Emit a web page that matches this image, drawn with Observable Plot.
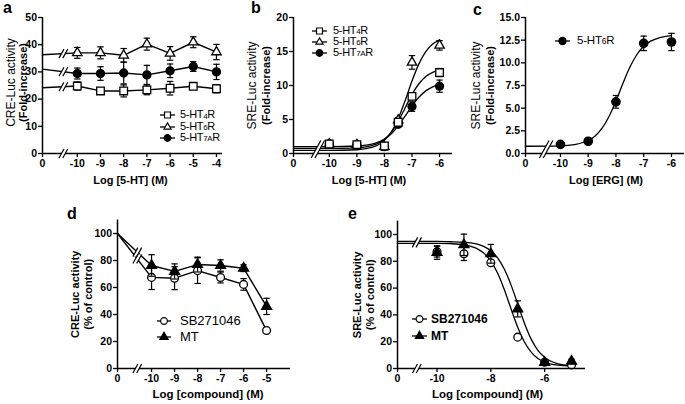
<!DOCTYPE html>
<html>
<head>
<meta charset="utf-8">
<script src="https://cdn.jsdelivr.net/npm/d3@7"></script>
<script src="https://cdn.jsdelivr.net/npm/@observablehq/plot@0.6"></script>
<style>
  html, body { margin: 0; padding: 0; background: white; }
  #fig { position: relative; width: 685px; height: 404px; background: white; overflow: hidden;
         font-family: "Liberation Sans", Arial, Helvetica, sans-serif; color: black; }
  #fig svg g[aria-label*="axis"] line, #fig svg g[aria-label*="axis"] path { stroke-width: 1.3px; }
  .plabel { position: absolute; font-size: 16px; font-weight: bold; line-height: 16px; }
  .legend-row { position: absolute; display: flex; align-items: center; white-space: nowrap; height: 14px; }
  .sb { font-size: 72%; position: relative; top: 0.5px; }
</style>
</head>
<body>
<div id="fig"></div>
<script>
// ================= DATA =================
// Doses are log10 molar concentrations; 0 = control (no compound), drawn on the broken axis origin.

// Panel a: CRE-Luc activity (fold increase) vs log [5-HT]
const aDoses   = [0, -10, -9, -8, -7, -6, -5, -4];
const aHT4R    = [24.2, 24.8, 23.0, 23.0, 23.4, 24.0, 24.7, 23.8];
const aHT4RErr = [null, 1.5, 1.0, 2.2, 1.8, 2.5, 1.0, 1.5];
const aHT6R    = [36.3, 37.0, 37.0, 36.1, 40.2, 36.8, 40.9, 37.3];
const aHT6RErr = [null, 2.0, 2.2, 2.5, 2.2, 2.5, 2.0, 2.8];
const aHT7AR    = [31.0, 29.4, 29.4, 29.6, 28.9, 30.4, 32.0, 30.0];
const aHT7ARErr = [null, 2.0, 2.5, 4.0, 3.5, 2.5, 1.8, 2.8];
const aTicks = [-10, -9, -8, -7, -6, -5, -4];
const aYTicks = [0, 10, 20, 30, 40, 50];

// Panel b: SRE-Luc activity vs log [5-HT]
const bDoses    = [-10, -9, -8, -7.5, -7, -6];
const bHT4R     = [1.4, 1.3, 1.1, 4.6, 8.4, 11.9];
const bHT4RErr  = [0.3, 0.2, 0.5, 0.4, 0.5, 0.6];
const bHT6R     = [1.4, 1.3, 1.0, 4.9, 13.4, 15.9];
const bHT6RErr  = [0.3, 0.2, 0.5, 0.4, 1.0, 0.7];
const bHT7AR    = [1.4, 1.3, 1.0, 4.3, 6.9, 9.9];
const bHT7ARErr = [0.3, 0.2, 0.5, 0.4, 0.7, 0.9];
// fitted curves
const bFitDoses = [0, -10, -9, -8.5, -8.25, -8, -7.75, -7.5, -7.25, -7, -6.75, -6.5, -6.25, -6];
const bFit4R    = [0.75, 0.75, 0.84, 1.12, 1.46, 2.08, 3.14, 4.72, 6.70, 8.68, 10.26, 11.32, 11.94, 12.29];
const bFit6R    = [0.45, 0.45, 0.55, 0.85, 1.22, 1.93, 3.16, 5.12, 7.76, 10.65, 13.18, 14.99, 16.10, 16.72];
const bFit7AR   = [1.01, 1.01, 1.10, 1.34, 1.63, 2.12, 2.91, 4.06, 5.50, 6.99, 8.27, 9.21, 9.81, 10.16];
const bTicks = [-10, -9, -8, -7, -6];
const bYTicks = [0, 5, 10, 15, 20];

// Panel c: SRE-Luc activity vs log [ERG]
const cDoses   = [-10, -9, -8, -7, -6];
const cHT6R    = [1.0, 1.35, 5.7, 12.15, 12.3];
const cHT6RErr = [0.15, 0.2, 0.7, 0.8, 0.95];
const cFitDoses = [0, -10, -9.5, -9, -8.75, -8.5, -8.25, -8, -7.75, -7.5, -7.25, -7, -6.75, -6.5, -6.25, -6];
const cFit6R    = [0.80, 0.85, 0.99, 1.43, 1.94, 2.79, 4.08, 5.80, 7.73, 9.51, 10.89, 11.82, 12.39, 12.71, 12.89, 12.99];
const cTicks = [-10, -9, -8, -7, -6];
const cYTicks = [0, 2.5, 5, 7.5, 10, 12.5, 15];

// Panel d: CRE-Luc activity (% of control) vs log [compound]
const dDoses   = [0, -10, -9, -8, -7, -6, -5];
const dSB      = [100, 67.5, 66.9, 72.5, 67.4, 62.3, 28.1];
const dSBErr   = [null, 9, 8.5, 9.5, 4, 4.3, 1];
const dMT      = [100, 76.3, 71.9, 77.0, 76.3, 74.3, 46.0];
const dMTErr   = [null, 8, 5.6, 5.5, 4.2, 2.5, 6];
const dTicks = [-10, -9, -8, -7, -6, -5];
const dYTicks = [0, 20, 40, 60, 80, 100];

// Panel e: SRE-Luc activity (% of control) vs log [compound]
const eDoses  = [-10, -9, -8, -7, -6, -5];
const eSB     = [87.2, 85.6, 78.9, 23.4, 4.7, 2.7];
const eSBErr  = [4, 5, 1.5, 1, 1, 1];
const eMT     = [86.5, 92.3, 85.6, 44.5, 4.5, 5.4];
const eMTErr  = [5, 8, 7, 6, 1, 1.5];
const eFitDoses = [0, -10, -9.5, -9, -8.5, -8.25, -8, -7.75, -7.5, -7.25, -7, -6.75, -6.5, -6.25, -6, -5.5, -5];
const eFitSB    = [93.4, 93.4, 93.15, 92.3, 89.3, 85.9, 80.1, 71.2, 58.9, 44.6, 30.8, 19.8, 12.2, 7.5, 4.8, 2.45, 1.77];
const eFitMT    = [94.8, 94.8, 94.6, 94.2, 92.8, 91.0, 87.9, 82.6, 74.3, 62.4, 48.1, 33.8, 21.9, 13.6, 8.4, 3.5, 2.1];
const eTicks = [-10, -8, -6];
const eYTicks = [0, 20, 40, 60, 80, 100];

// ================= HELPERS =================
const FONT = '"Liberation Sans", Arial, Helvetica, sans-serif';
const fig = document.getElementById("fig");

const cap = { draw(c) { c.moveTo(-3.2, 0); c.lineTo(3.2, 0); } };
function breakFill(top, bot, k = 0.55, c1 = -1.9, c2 = 1.9) {
  return { draw(c) {
    c.moveTo(c1 - k * bot, bot); c.lineTo(c1 - k * top, top);
    c.lineTo(c2 - k * top, top); c.lineTo(c2 - k * bot, bot); c.closePath();
  } };
}
function breakLines(top, bot, k = 0.55, c1 = -1.9, c2 = 1.9) {
  return { draw(c) {
    c.moveTo(c1 - k * bot, bot); c.lineTo(c1 - k * top, top);
    c.moveTo(c2 - k * bot, bot); c.lineTo(c2 - k * top, top);
  } };
}
function breakMarks(points, top, bot) {
  return [
    Plot.dot(points, {x: "x", y: "y", symbol: breakFill(top, bot), fill: "white", stroke: "none", r: 5}),
    Plot.dot(points, {x: "x", y: "y", symbol: breakLines(top, bot), fill: "none", stroke: "black", strokeWidth: 1.2, r: 5})
  ];
}
const rows = (doses, vals, errs, ctrl) =>
  doses.map((d, i) => ({x: d === 0 ? ctrl : d, y: vals[i], err: errs ? errs[i] : null, ctrl: d === 0}));

// y value of the straight segment ctrl -> first dose at the break position
const yAtBreak = (r, bx) => {
  const a = r[0], b = r[1];
  return a.y + (b.y - a.y) * (bx - a.x) / (b.x - a.x);
};

function errMarks(r) {
  const e = r.filter(d => d.err != null && !d.ctrl);
  return [
    Plot.ruleX(e, {x: "x", y1: d => d.y - d.err, y2: d => d.y + d.err, stroke: "black", strokeWidth: 1.2}),
    Plot.dot(e, {x: "x", y: d => d.y + d.err, symbol: cap, fill: "none", stroke: "black", strokeWidth: 1.2}),
    Plot.dot(e, {x: "x", y: d => d.y - d.err, symbol: cap, fill: "none", stroke: "black", strokeWidth: 1.2})
  ];
}
function pointMarks(r, symbol, rad, fill) {
  return Plot.dot(r.filter(d => !d.ctrl), {x: "x", y: "y", symbol, r: rad, fill, stroke: "black", strokeWidth: 1.3});
}

function makePanel(cfg) {
  const {left, top, width, height, m, ctrl, xmax, ymax, xTicks, yTicks, yFormat,
         marks, xLabel, xLabelDx, yLab1, yLab2, yDx1, yDx2, yDy, yW1, yW2, yF1, yF2, xF} = cfg;
  const svg = Plot.plot({
    width, height,
    marginTop: m[0], marginRight: m[1], marginBottom: m[2], marginLeft: m[3],
    x: {domain: [ctrl, xmax], ticks: [ctrl, ...xTicks], tickFormat: d => d === ctrl ? "0" : String(d),
        tickSize: 4, tickPadding: 2, label: null},
    y: {domain: [0, ymax], ticks: yTicks, tickFormat: yFormat || (d => String(d)),
        tickSize: 4, tickPadding: 1.5, label: null},
    style: `font-family: ${FONT}; font-size: 10.5px; font-weight: bold; background: transparent; overflow: visible; color: black;`,
    marks: [
      ...marks,
      Plot.ruleY([0], {stroke: "black", strokeWidth: 1.5}),
      Plot.ruleX([ctrl], {stroke: "black", strokeWidth: 1.5}),
      ...breakMarks([{x: cfg.breakX, y: 0}], cfg.axisBreakTop ?? -4.5, 4.5),
      Plot.text([xLabel], {text: d => d, frameAnchor: "bottom", dy: cfg.xDy ?? 27, dx: xLabelDx,
        lineAnchor: "middle", textAnchor: "middle", fontSize: xF ?? 11, fontWeight: "bold"}),
      Plot.text([yLab1], {text: d => d, frameAnchor: "left", rotate: -90, dx: yDx1, dy: yDy,
        lineAnchor: "middle", textAnchor: "middle", fontSize: yF1, fontWeight: yW1}),
      Plot.text([yLab2], {text: d => d, frameAnchor: "left", rotate: -90, dx: yDx2, dy: yDy,
        lineAnchor: "middle", textAnchor: "middle", fontSize: yF2, fontWeight: yW2})
    ]
  });
  svg.style.position = "absolute";
  svg.style.left = left + "px";
  svg.style.top = top + "px";
  svg.style.maxWidth = "none";
  fig.appendChild(svg);
}

function addLabel(txt, left, baseline) {
  const d = document.createElement("div");
  d.className = "plabel";
  d.textContent = txt;
  d.style.left = left + "px";
  d.style.top = (baseline - 13.5) + "px";
  fig.appendChild(d);
}

function addLegend({left, centers, glyphW, gap, fontSize, fontWeight, spacing, items}) {
  items.forEach((it, i) => {
    const row = document.createElement("div");
    row.className = "legend-row";
    row.style.left = left + "px";
    row.style.top = (centers[i] - 7) + "px";
    const s = d3.create("svg").attr("width", glyphW).attr("height", 14).style("overflow", "visible");
    s.append("line").attr("x1", 0).attr("x2", glyphW).attr("y1", 7).attr("y2", 7)
      .attr("stroke", "black").attr("stroke-width", 1.3);
    s.append("path").attr("transform", `translate(${glyphW / 2},7)`)
      .attr("d", d3.symbol(it.type, it.size)()).attr("fill", it.fill)
      .attr("stroke", "black").attr("stroke-width", 1.2);
    row.appendChild(s.node());
    const span = document.createElement("span");
    span.innerHTML = it.label;
    span.style.marginLeft = gap + "px";
    span.style.fontSize = fontSize + "px";
    span.style.fontWeight = fontWeight;
    span.style.letterSpacing = (spacing || 0) + "px";
    span.style.lineHeight = "14px";
    row.appendChild(span);
    fig.appendChild(row);
  });
}

const SQ = {symbol: "square", r: 4.3};
const TR = {symbol: "triangle", r: 3.5};
const CI = {symbol: "circle", r: 4.0};

// ================= PANEL A =================
{
  const ctrl = -11.5, bx = -10.6;
  const r4 = rows(aDoses, aHT4R, aHT4RErr, ctrl);
  const r6 = rows(aDoses, aHT6R, aHT6RErr, ctrl);
  const r7 = rows(aDoses, aHT7AR, aHT7ARErr, ctrl);
  makePanel({
    left: 0, top: 0, width: 232, height: 200, m: [17, 10, 47, 42], ctrl, xmax: -3.74, ymax: 50,
    xTicks: aTicks, yTicks: aYTicks, breakX: bx,
    xLabel: "Log [5-HT] (M)", xLabelDx: -2,
    yLab1: "CRE-Luc activity", yLab2: "(Fold-increase)", yDx1: -31, yDx2: -19, yDy: -3,
    yW1: "normal", yW2: "bold", yF1: 12, yF2: 11,
    marks: [
      Plot.line(r4, {x: "x", y: "y", stroke: "black", strokeWidth: 1.4}),
      Plot.line(r6, {x: "x", y: "y", stroke: "black", strokeWidth: 1.4}),
      Plot.line(r7, {x: "x", y: "y", stroke: "black", strokeWidth: 1.4}),
      ...breakMarks([r4, r6, r7].map(r => ({x: bx, y: yAtBreak(r, bx)})), -4.5, 4.5),
      ...errMarks(r4), pointMarks(r4, SQ.symbol, SQ.r, "white"),
      ...errMarks(r6), pointMarks(r6, TR.symbol, TR.r, "white"),
      ...errMarks(r7), pointMarks(r7, CI.symbol, CI.r, "black")
    ]
  });
}

// ================= PANEL B =================
{
  const ctrl = -11.3, bx = -10.5;
  const r4 = rows(bDoses, bHT4R, bHT4RErr, ctrl);
  const r6 = rows(bDoses, bHT6R, bHT6RErr, ctrl);
  const r7 = rows(bDoses, bHT7AR, bHT7ARErr, ctrl);
  const f4 = rows(bFitDoses, bFit4R, null, ctrl);
  const f6 = rows(bFitDoses, bFit6R, null, ctrl);
  const f7 = rows(bFitDoses, bFit7AR, null, ctrl);
  makePanel({
    left: 232, top: 0, width: 228, height: 200, m: [17, 8, 47, 61], ctrl, xmax: -5.53, ymax: 20,
    xTicks: bTicks, yTicks: bYTicks, breakX: bx, axisBreakTop: -13,
    xLabel: "Log [5-HT] (M)", xLabelDx: -4,
    yLab1: "SRE-Luc activity", yLab2: "(Fold-increase)", yDx1: -41, yDx2: -27, yDy: 0,
    yW1: "normal", yW2: "bold", yF1: 12, yF2: 11,
    marks: [
      Plot.line(f4, {x: "x", y: "y", curve: "monotone-x", stroke: "black", strokeWidth: 1.3}),
      Plot.line(f6, {x: "x", y: "y", curve: "monotone-x", stroke: "black", strokeWidth: 1.3}),
      Plot.line(f7, {x: "x", y: "y", curve: "monotone-x", stroke: "black", strokeWidth: 1.3}),
      ...errMarks(r7), pointMarks(r7, CI.symbol, CI.r, "black"),
      ...errMarks(r6), pointMarks(r6, TR.symbol, TR.r, "white"),
      ...errMarks(r4), pointMarks(r4, SQ.symbol, SQ.r, "white")
    ]
  });
}

// ================= PANEL C =================
{
  const ctrl = -11.26, bx = -10.6;
  const r6 = rows(cDoses, cHT6R, cHT6RErr, ctrl);
  const f6 = rows(cFitDoses, cFit6R, null, ctrl);
  makePanel({
    left: 460, top: 0, width: 225, height: 200, m: [17, 1, 47, 65], ctrl, xmax: -5.53, ymax: 15,
    xTicks: cTicks, yTicks: cYTicks, yFormat: d3.format(".1f"), breakX: bx, axisBreakTop: -13,
    xLabel: "Log [ERG] (M)", xLabelDx: 1,
    yLab1: "SRE-Luc activity", yLab2: "(Fold-increase)", yDx1: -49, yDx2: -35, yDy: 0,
    yW1: "normal", yW2: "bold", yF1: 12, yF2: 11,
    marks: [
      Plot.line(f6, {x: "x", y: "y", curve: "monotone-x", stroke: "black", strokeWidth: 1.3}),
      ...errMarks(r6), pointMarks(r6, CI.symbol, CI.r + 0.2, "black")
    ]
  });
}

// ================= PANEL D =================
{
  const ctrl = -11.48, bx = -10.62;
  const rS = rows(dDoses, dSB, dSBErr, ctrl);
  const rM = rows(dDoses, dMT, dMTErr, ctrl);
  makePanel({
    left: 0, top: 200, width: 300, height: 204, m: [19.5, 10, 36, 117], ctrl, xmax: -3.96, ymax: 110,
    xTicks: dTicks, yTicks: dYTicks, breakX: bx, xDy: 26, xF: 11.5,
    xLabel: "Log [compound] (M)", xLabelDx: 4,
    yLab1: "CRE-Luc activity", yLab2: "(% of control)", yDx1: -42, yDx2: -29, yDy: 0,
    yW1: "bold", yW2: "bold", yF1: 11, yF2: 11,
    marks: [
      Plot.line(rS, {x: "x", y: "y", stroke: "black", strokeWidth: 1.4}),
      Plot.line(rM, {x: "x", y: "y", stroke: "black", strokeWidth: 1.4}),
      ...breakMarks([rS, rM].map(r => ({x: bx, y: yAtBreak(r, bx)})), -4.5, 4.5),
      ...errMarks(rS), pointMarks(rS, CI.symbol, 3.9, "white"),
      ...errMarks(rM), pointMarks(rM, TR.symbol, 3.7, "black")
    ]
  });
}

// ================= PANEL E =================
{
  const ctrl = -11.47, bx = -10.75;
  const rS = rows(eDoses, eSB, eSBErr, ctrl);
  const rM = rows(eDoses, eMT, eMTErr, ctrl);
  const fS = rows(eFitDoses, eFitSB, null, ctrl);
  const fM = rows(eFitDoses, eFitMT, null, ctrl);
  makePanel({
    left: 300, top: 200, width: 300, height: 204, m: [20.6, 15, 36, 97], ctrl, xmax: -4.48, ymax: 110,
    xTicks: eTicks, yTicks: eYTicks, breakX: bx, xDy: 26, xF: 11.5,
    xLabel: "Log [compound] (M)", xLabelDx: -4,
    yLab1: "SRE-Luc activity", yLab2: "(% of control)", yDx1: -40, yDx2: -27, yDy: 0,
    yW1: "bold", yW2: "bold", yF1: 11, yF2: 11,
    marks: [
      Plot.line(fS, {x: "x", y: "y", curve: "monotone-x", stroke: "black", strokeWidth: 1.3}),
      Plot.line(fM, {x: "x", y: "y", curve: "monotone-x", stroke: "black", strokeWidth: 1.3}),
      ...breakMarks([{x: bx, y: (eFitSB[0] + eFitMT[0]) / 2}], -5, 5),
      ...errMarks(rS), pointMarks(rS, CI.symbol, 3.9, "white"),
      ...errMarks(rM), pointMarks(rM, TR.symbol, 3.7, "black")
    ]
  });
}

// ================= PANEL LETTERS & LEGENDS =================
addLabel("a", 3, 13);
addLabel("b", 251, 13.5);
addLabel("c", 473, 15);
addLabel("d", 67, 219);
addLabel("e", 348, 219);

const sub = (n) => `5-HT<span class="sb">${n}</span>R`;
const htItems = [
  {type: d3.symbolSquare, size: 36, fill: "white", label: sub("4")},
  {type: d3.symbolTriangle, size: 22, fill: "white", label: sub("6")},
  {type: d3.symbolCircle, size: 34, fill: "black", label: sub("7A")}
];
addLegend({left: 160, centers: [115, 126.7, 137.7], glyphW: 15, gap: 5, fontSize: 11, fontWeight: "normal", spacing: -0.3, items: htItems});
addLegend({left: 312, centers: [30.7, 41.7, 52.7], glyphW: 15, gap: 6, fontSize: 11, fontWeight: "normal", spacing: -0.3, items: htItems});
addLegend({left: 555, centers: [40.7], glyphW: 15, gap: 7, fontSize: 11.5, fontWeight: "normal", spacing: -0.2,
  items: [
    {type: d3.symbolCircle, size: 40, fill: "black", label: sub("6")}
  ]});
addLegend({left: 157, centers: [320.7, 337.3], glyphW: 14, gap: 9, fontSize: 13, fontWeight: "normal", spacing: 0,
  items: [
    {type: d3.symbolCircle, size: 36, fill: "white", label: "SB271046"},
    {type: d3.symbolTriangle, size: 30, fill: "black", label: "MT"}
  ]});
addLegend({left: 412, centers: [319, 335.7], glyphW: 15, gap: 4, fontSize: 12, fontWeight: "bold", spacing: 0,
  items: [
    {type: d3.symbolCircle, size: 36, fill: "white", label: "SB271046"},
    {type: d3.symbolTriangle, size: 30, fill: "black", label: "MT"}
  ]});
</script>
</body>
</html>
